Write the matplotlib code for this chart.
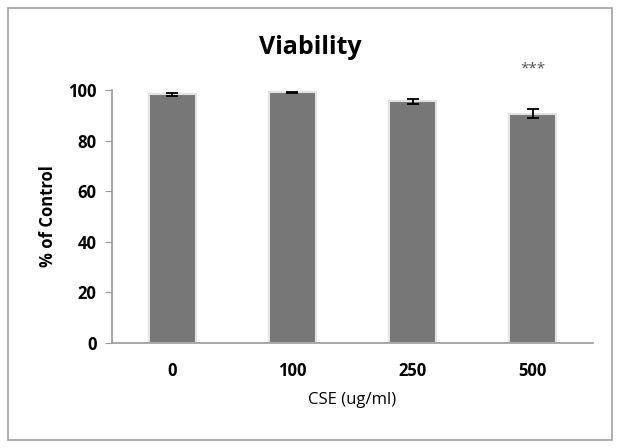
import matplotlib
matplotlib.use("Agg")
import matplotlib.pyplot as plt
from matplotlib.patches import Rectangle

categories = ["0", "100", "250", "500"]
values = [98.3, 99.1, 95.5, 90.7]
errors = [0.5, 0.3, 0.9, 1.8]
yticks = [0, 20, 40, 60, 80, 100]
title = "Viability"
xlabel = "CSE (ug/ml)"
ylabel = "% of Control"
sig = ["", "", "", "***"]

plt.rcParams['font.family'] = ['Open Sans', 'DejaVu Sans']

fig = plt.figure(figsize=(6.21, 4.48), dpi=100)
# outer border
fig.patches.append(Rectangle((8/621, 8/448), 604/621, 432/448, transform=fig.transFigure,
                             fill=False, edgecolor='#a0a0a0', linewidth=1.2))

ax = fig.add_axes([112/621, 105/448, 481/621, 253/448])
x = list(range(len(categories)))
ax.bar(x, values, width=0.39, color='#777777', edgecolor='#e2e2e2', linewidth=1.5, zorder=2)
ax.errorbar(x, values, yerr=errors, fmt='none', ecolor='black', elinewidth=1.3,
            capsize=4, capthick=1.3, zorder=3)
for xi, s, v in zip(x, sig, values):
    if s:
        ax.text(xi, 108.5, s, ha='center', va='center', fontsize=11, color='#555555')

ax.set_xlim(-0.5, 3.5)
ax.set_ylim(0, 100)
ax.set_yticks(yticks)
ax.set_xticks(x)
ax.set_xticklabels(categories, fontsize=12, fontweight='bold')
ax.set_yticklabels([str(t) for t in yticks], fontsize=12, fontweight='bold')
ax.tick_params(axis='x', length=0, pad=14)
ax.tick_params(axis='y', length=5, color='#999999', pad=6)
for sp in ['top', 'right']:
    ax.spines[sp].set_visible(False)
for sp in ['left', 'bottom']:
    ax.spines[sp].set_color('#999999')
    ax.spines[sp].set_linewidth(1.2)
ax.set_xlabel(xlabel, fontsize=12, labelpad=8)
ax.set_ylabel(ylabel, fontsize=12, fontweight='bold', labelpad=8)
fig.text(0.5, 1 - 47/448, title, ha='center', va='center', fontsize=18, fontweight='bold')

fig.savefig("out.png", dpi=100)
